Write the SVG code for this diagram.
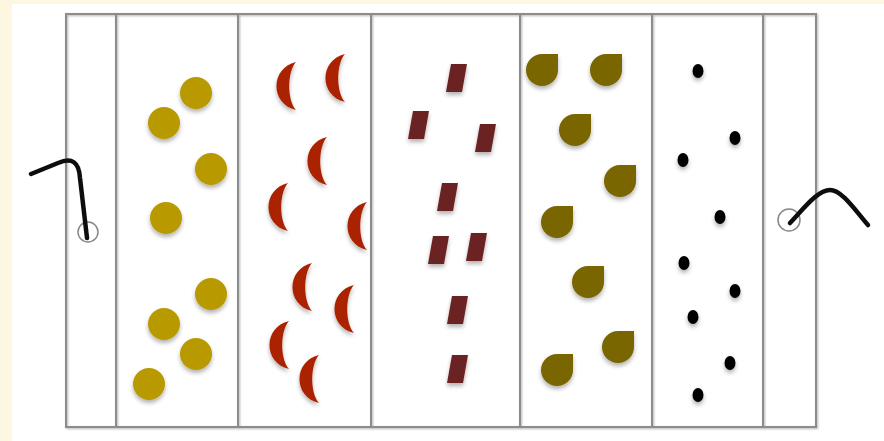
<svg xmlns="http://www.w3.org/2000/svg" xmlns:xlink="http://www.w3.org/1999/xlink" width="884" height="441" viewBox="0 0 884 441">
<defs>
<style>
.frame{fill:none;stroke:#8c8c8c;stroke-width:2;}
.ball{fill:#b89a00;}
.moon{fill:#aa2200;}
.brick{fill:#6a2222;}
.drop{fill:#7a6600;}
.dot{fill:#000;}
.wire{fill:none;stroke:#111;stroke-width:4.5;stroke-linecap:round;stroke-linejoin:round;}
.port{fill:none;stroke:#888;stroke-width:1.5;}
</style>
<filter id="sh" x="-50%" y="-50%" width="200%" height="200%">
<feDropShadow dx="0" dy="3" stdDeviation="2" flood-color="#000" flood-opacity="0.3"/>
</filter>
<filter id="lsh" x="-10%" y="-10%" width="120%" height="120%">
<feDropShadow dx="1" dy="1" stdDeviation="1" flood-color="#000" flood-opacity="0.3"/>
</filter>
<filter id="blur" x="-10%" y="-10%" width="120%" height="120%">
<feGaussianBlur stdDeviation="0.6"/>
</filter>
<circle id="ball" class="ball" r="16"/>
<path id="moon" class="moon" d="M9,-24 C-17,-18 -17,18 9,24 C0,14 0,-14 9,-24 Z"/>
<path id="brick" class="brick" d="M-3,-14 L13,-14 L8,14 L-8,14 Z"/>
<path id="drop" class="drop" d="M-16,0 A16,16 0 0 1 0,-16 L16,-16 L16,0 A16,16 0 0 1 0,16 A16,16 0 0 1 -16,0 Z"/>
<ellipse id="dot" class="dot" rx="5.5" ry="7"/>
</defs>
<rect x="0" y="0" width="884" height="441" fill="#fdf7e1"/>
<rect x="12" y="4" width="872" height="437" fill="#fff"/>
<g id="frame" filter="url(#lsh)">
<rect class="frame" x="66" y="14" width="750" height="413"/>
<line class="frame" x1="116" y1="14" x2="116" y2="427"/>
<line class="frame" x1="238" y1="14" x2="238" y2="427"/>
<line class="frame" x1="371" y1="14" x2="371" y2="427"/>
<line class="frame" x1="520" y1="14" x2="520" y2="427"/>
<line class="frame" x1="652" y1="14" x2="652" y2="427"/>
<line class="frame" x1="763" y1="14" x2="763" y2="427"/>
</g>
<g id="balls" filter="url(#sh)">
<use xlink:href="#ball" x="196" y="93"/>
<use xlink:href="#ball" x="164" y="123"/>
<use xlink:href="#ball" x="211" y="169"/>
<use xlink:href="#ball" x="166" y="218"/>
<use xlink:href="#ball" x="211" y="294"/>
<use xlink:href="#ball" x="164" y="324"/>
<use xlink:href="#ball" x="196" y="354"/>
<use xlink:href="#ball" x="149" y="384"/>
</g>
<g id="moons" filter="url(#sh)">
<use xlink:href="#moon" x="287" y="86"/>
<use xlink:href="#moon" x="336" y="78"/>
<use xlink:href="#moon" x="318" y="161"/>
<use xlink:href="#moon" x="279" y="207"/>
<use xlink:href="#moon" x="358" y="226"/>
<use xlink:href="#moon" x="303" y="287"/>
<use xlink:href="#moon" x="345" y="309"/>
<use xlink:href="#moon" x="280" y="345"/>
<use xlink:href="#moon" x="310" y="379"/>
</g>
<g id="bricks" filter="url(#sh)">
<use xlink:href="#brick" x="454" y="78"/>
<use xlink:href="#brick" x="416" y="125"/>
<use xlink:href="#brick" x="483" y="138"/>
<use xlink:href="#brick" x="445" y="197"/>
<use xlink:href="#brick" x="436" y="250"/>
<use xlink:href="#brick" x="474" y="247"/>
<use xlink:href="#brick" x="455" y="310"/>
<use xlink:href="#brick" x="455" y="369"/>
</g>
<g id="drops" filter="url(#sh)">
<use xlink:href="#drop" x="542" y="70"/>
<use xlink:href="#drop" x="606" y="70"/>
<use xlink:href="#drop" x="575" y="130"/>
<use xlink:href="#drop" x="620" y="181"/>
<use xlink:href="#drop" x="557" y="222"/>
<use xlink:href="#drop" x="588" y="282"/>
<use xlink:href="#drop" x="618" y="347"/>
<use xlink:href="#drop" x="557" y="370"/>
</g>
<g id="dots" filter="url(#sh)">
<use xlink:href="#dot" x="698" y="71"/>
<use xlink:href="#dot" x="735" y="138"/>
<use xlink:href="#dot" x="683" y="160"/>
<use xlink:href="#dot" x="720" y="217"/>
<use xlink:href="#dot" x="684" y="263"/>
<use xlink:href="#dot" x="735" y="291"/>
<use xlink:href="#dot" x="693" y="317"/>
<use xlink:href="#dot" x="730" y="363"/>
<use xlink:href="#dot" x="698" y="395"/>
</g>
<g id="left-lead">
<circle class="port" cx="88" cy="232" r="10"/>
<path class="wire" filter="url(#blur)" d="M31,174 L58,163 C72,157 79,162 80,178 L87,238"/>
</g>
<g id="right-lead">
<circle class="port" cx="789" cy="220" r="11"/>
<path class="wire" filter="url(#blur)" d="M790,223 C805,207 818,190 830,190 C842,190 855,210 868,225"/>
</g>
</svg>
